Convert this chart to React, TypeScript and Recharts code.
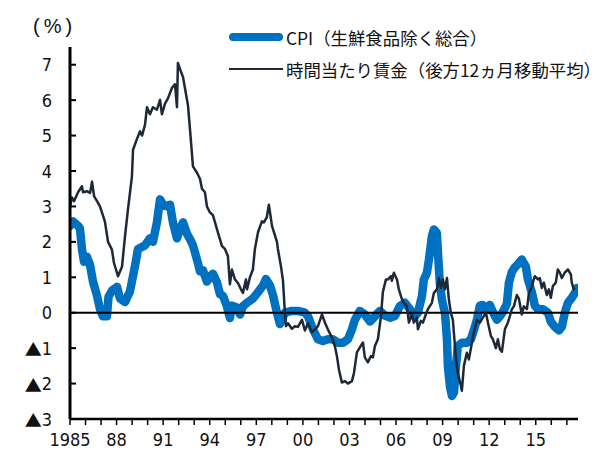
import { LineChart, Line, XAxis, YAxis, ReferenceLine } from "recharts"

// CPI (ex fresh food), y/y %
const cpiYears = [
  1985.0, 1985.19, 1985.52, 1985.64, 1985.77, 1985.9, 1986.09, 1986.29, 1986.48, 1986.74,
  1986.93, 1987.12, 1987.38, 1987.48, 1987.7, 1988.03, 1988.22, 1988.54, 1988.86, 1989.19,
  1989.38, 1989.83, 1990.15, 1990.34, 1990.6, 1990.8, 1990.99, 1991.25, 1991.44, 1991.63,
  1991.89, 1992.08, 1992.28, 1992.53, 1992.73, 1992.92, 1993.18, 1993.37, 1993.56, 1993.82,
  1994.01, 1994.21, 1994.47, 1994.66, 1994.85, 1995.11, 1995.3, 1995.43, 1995.75, 1995.95,
  1996.14, 1996.46, 1996.78, 1997.11, 1997.43, 1997.62, 1997.88, 1998.07, 1998.33, 1998.52,
  1998.84, 1999.29, 1999.68, 2000.13, 2000.33, 2000.65, 2000.97, 2001.29, 2001.61, 2001.93,
  2002.26, 2002.58, 2002.9, 2003.16, 2003.35, 2003.67, 2003.99, 2004.32, 2004.64, 2004.96,
  2005.28, 2005.61, 2005.93, 2006.25, 2006.57, 2006.89, 2007.21, 2007.41, 2007.67, 2007.79,
  2007.99, 2008.12, 2008.31, 2008.44, 2008.63, 2008.7, 2008.82, 2008.95, 2009.15, 2009.28,
  2009.34, 2009.47, 2009.6, 2009.73, 2009.86, 2009.98, 2010.24, 2010.56, 2010.82, 2011.01,
  2011.21, 2011.4, 2011.59, 2011.85, 2012.04, 2012.24, 2012.5, 2012.69, 2012.88, 2013.14,
  2013.27, 2013.46, 2013.65, 2013.85, 2014.1, 2014.36, 2014.49, 2014.75, 2014.94, 2015.14,
  2015.46, 2015.78, 2015.97, 2016.23, 2016.49, 2016.68, 2016.87, 2017.07, 2017.32, 2017.58,
  2017.65,
]
const cpiValues = [
  2.45, 2.58, 2.45, 2.38, 1.8, 1.44, 1.58, 1.35, 0.88, 0.48,
  0.1, -0.1, -0.1, 0.45, 0.62, 0.73, 0.4, 0.3, 0.6, 1.33,
  1.8, 1.9, 2.1, 2.0, 2.55, 3.2, 3.05, 3.0, 3.05, 2.55,
  2.1, 2.35, 2.55, 2.23, 2.08, 1.9, 1.5, 1.17, 1.2, 0.88,
  1.02, 1.1, 0.85, 0.52, 0.48, 0.18, -0.15, 0.2, 0.15, -0.05,
  0.18, 0.3, 0.4, 0.58, 0.77, 0.95, 0.77, 0.5, 0.0, -0.32,
  0.0, 0.05, 0.05, 0.0, -0.1, -0.47, -0.75, -0.8, -0.75, -0.75,
  -0.85, -0.85, -0.75, -0.47, -0.2, 0.05, -0.05, -0.25, -0.1, 0.05,
  -0.08, -0.14, -0.09, 0.19, 0.28, 0.1, -0.1, 0.0, 0.47, 0.94,
  1.13, 1.5, 2.16, 2.35, 2.25, 1.69, 0.85, 0.38, 0.0, -0.75,
  -1.5, -2.07, -2.35, -2.25, -1.5, -0.94, -0.85, -0.85, -0.75, -0.5,
  -0.2, 0.2, 0.22, 0.08, 0.22, 0.02, -0.2, -0.1, 0.02, 0.25,
  0.85, 1.15, 1.28, 1.37, 1.5, 1.3, 0.95, 0.57, 0.2, 0.1,
  0.1, 0.0, -0.25, -0.4, -0.5, -0.4, 0.0, 0.28, 0.42, 0.6,
  0.7,
]

// hourly wages, backward 12-month moving average, y/y %
const wageYears = [
  1985.0, 1985.13, 1985.26, 1985.52, 1985.77, 1985.84, 1986.09, 1986.29, 1986.42, 1986.55,
  1986.74, 1986.93, 1987.12, 1987.25, 1987.45, 1987.7, 1987.83, 1988.09, 1988.35, 1988.54,
  1988.73, 1988.99, 1989.06, 1989.31, 1989.51, 1989.64, 1989.83, 1989.96, 1990.15, 1990.34,
  1990.6, 1990.8, 1990.92, 1991.12, 1991.31, 1991.57, 1991.76, 1991.89, 1991.95, 1992.15,
  1992.28, 1992.4, 1992.6, 1992.73, 1992.92, 1993.18, 1993.37, 1993.5, 1993.69, 1993.82,
  1994.01, 1994.21, 1994.34, 1994.53, 1994.79, 1994.98, 1995.17, 1995.3, 1995.43, 1995.62,
  1995.82, 1996.01, 1996.14, 1996.33, 1996.4, 1996.59, 1996.78, 1996.91, 1997.11, 1997.36,
  1997.49, 1997.68, 1997.81, 1998.01, 1998.14, 1998.33, 1998.39, 1998.59, 1998.72, 1998.84,
  1998.91, 1999.04, 1999.29, 1999.49, 1999.68, 1999.94, 2000.13, 2000.33, 2000.58, 2000.78,
  2000.97, 2001.23, 2001.42, 2001.61, 2001.87, 2002.06, 2002.19, 2002.32, 2002.51, 2002.71,
  2002.9, 2003.16, 2003.29, 2003.48, 2003.67, 2003.87, 2003.99, 2004.19, 2004.38, 2004.51,
  2004.64, 2004.83, 2005.03, 2005.15, 2005.35, 2005.48, 2005.67, 2005.73, 2005.86, 2006.06,
  2006.18, 2006.38, 2006.51, 2006.7, 2006.83, 2007.02, 2007.15, 2007.34, 2007.41, 2007.6,
  2007.73, 2007.92, 2008.05, 2008.31, 2008.44, 2008.63, 2008.76, 2008.89, 2009.02, 2009.15,
  2009.28, 2009.4, 2009.53, 2009.66, 2009.86, 2009.98, 2010.18, 2010.24, 2010.37, 2010.56,
  2010.69, 2010.89, 2011.01, 2011.21, 2011.4, 2011.59, 2011.79, 2011.92, 2012.11, 2012.24,
  2012.43, 2012.56, 2012.69, 2012.82, 2013.01, 2013.2, 2013.33, 2013.46, 2013.59, 2013.78,
  2013.91, 2014.1, 2014.23, 2014.43, 2014.56, 2014.68, 2014.81, 2014.94, 2015.14, 2015.26,
  2015.39, 2015.52, 2015.71, 2015.84, 2015.97, 2016.1, 2016.29, 2016.42, 2016.55, 2016.68,
  2016.87, 2017.07, 2017.26, 2017.32, 2017.45, 2017.52,
]
const wageValues = [
  3.0, 3.25, 3.15, 3.4, 3.57, 3.4, 3.43, 3.38, 3.7, 3.29,
  3.15, 3.0, 2.75, 2.57, 2.0, 1.78, 1.41, 1.03, 1.3, 2.15,
  2.9, 3.85, 4.6, 4.9, 5.12, 5.0, 5.3, 5.8, 5.6, 5.8,
  5.73, 6.01, 5.6, 5.9, 6.05, 6.35, 6.45, 5.8, 7.05, 6.8,
  6.65, 6.35, 5.85, 5.17, 4.13, 3.95, 3.78, 3.5, 3.4, 3.0,
  2.83, 2.75, 2.55, 2.26, 1.88, 1.8, 1.6, 0.8, 1.22, 0.94,
  0.84, 0.66, 0.56, 0.94, 0.66, 1.0, 1.22, 1.8, 2.27, 2.58,
  2.55, 2.7, 3.05, 2.45, 2.27, 2.0, 1.8, 1.3, 0.9, 0.0,
  -0.38, -0.3, -0.45, -0.38, -0.4, -0.2, -0.5, -0.3, -0.55, -0.47,
  -0.38, -0.05, -0.28, -0.47, -0.7, -0.94, -1.22, -1.6, -1.97, -1.93,
  -2.0, -1.93, -1.7, -1.12, -0.98, -0.84, -1.26, -1.4, -1.22, -1.26,
  -0.94, -0.75, -0.1, 0.58, 0.94, 0.94, 1.03, 0.9, 1.13, 0.94,
  0.66, 0.38, 0.28, 0.18, -0.28, -0.05, -0.28, -0.14, -0.47, -0.23,
  -0.28, -0.05, 0.1, 0.28, 0.56, 0.66, 0.98, 0.7, 0.94, 0.66,
  0.98, 0.38, 0.0, -0.2, -1.3, -1.7, -2.07, -2.2, -1.5, -1.13,
  -1.32, -0.84, -0.56, -0.2, -0.28, -0.14, 0.0, -0.28, -0.66, -0.75,
  -1.0, -0.75, -1.03, -1.1, -0.47, -0.28, -0.1, 0.1, 0.18, 0.5,
  0.4, -0.05, 0.18, 0.1, 0.56, 0.66, 0.85, 1.03, 0.94, 0.98,
  0.7, 0.85, 0.5, 0.66, 0.42, 0.75, 0.85, 1.22, 1.13, 0.98,
  1.13, 1.22, 1.08, 0.85, 0.66, 0.7,
]

const seriesNames = ["CPI（生鮮食品除く総合）", "時間当たり賃金（後方12ヵ月移動平均）"]
const seriesColors = ["#0070c0", "#1f2837"]

const yTicks = [-3, -2, -1, 0, 1, 2, 3, 4, 5, 6, 7]
const xTicks = Array.from({ length: 33 }, (_, i) => 1985 + i)
const xTickLabels: Record<number, string> = {
  1985: "1985", 1988: "88", 1991: "91", 1994: "94", 1997: "97", 2000: "00",
  2003: "03", 2006: "06", 2009: "09", 2012: "12", 2015: "15",
}

const cpiData = cpiYears.map((t, i) => ({ t, v: cpiValues[i] }))
const wageData = wageYears.map((t, i) => ({ t, v: wageValues[i] }))

const numFont = "'Liberation Sans Narrow', 'DejaVu Sans Condensed', 'Liberation Sans', sans-serif"
const jpFont = "'Noto Sans CJK JP', sans-serif"

// labels use ▲ for negatives
function YTick(props: any) {
  const { x, y, payload } = props
  const v = payload.value as number
  return (
    <text x={x} y={y} textAnchor="end" dominantBaseline="central" fontSize={18} fontFamily={numFont} fill="#111">
      {v < 0 ? (
        <>
          <tspan fontFamily={jpFont} fontSize={17}>▲</tspan>
          {Math.abs(v)}
        </>
      ) : (
        v
      )}
    </text>
  )
}

export default function App() {
  return (
    <div style={{ position: "absolute", left: 0, top: 0, width: 606, height: 454, background: "#fff", overflow: "hidden" }}>
      <LineChart width={606} height={454} margin={{ top: 47, right: 28, left: 0, bottom: 0 }}>
        <XAxis
          dataKey="t"
          type="number"
          domain={[1985, 2017.72]}
          ticks={xTicks}
          interval={0}
          tickFormatter={(t: number) => xTickLabels[t] ?? ""}
          height={35}
          axisLine={{ stroke: "#000", strokeWidth: 2.5 }}
          tickLine={{ stroke: "#000", strokeWidth: 1.5 }}
          tickSize={6}
          tickMargin={8}
          tick={{ fontSize: 18, fontFamily: numFont, fill: "#111" }}
          allowDataOverflow
        />
        {/* negative tickSize puts the tick marks inside the plot */}
        <YAxis
          type="number"
          domain={[-3, 7.5]}
          ticks={yTicks}
          interval={0}
          width={70}
          axisLine={{ stroke: "#000", strokeWidth: 3 }}
          tickLine={{ stroke: "#000", strokeWidth: 2 }}
          tickSize={-6}
          tickMargin={24}
          tick={<YTick />}
          allowDataOverflow
        />
        <Line
          data={cpiData}
          dataKey="v"
          type="linear"
          stroke={seriesColors[0]}
          strokeWidth={8.5}
          strokeLinejoin="round"
          strokeLinecap="round"
          dot={false}
          activeDot={false}
          isAnimationActive={false}
        />
        <ReferenceLine y={0} stroke="#000" strokeWidth={2} />
        <Line
          data={wageData}
          dataKey="v"
          type="linear"
          stroke={seriesColors[1]}
          strokeWidth={2.5}
          strokeLinejoin="round"
          dot={false}
          activeDot={false}
          isAnimationActive={false}
        />
      </LineChart>

      <div
        style={{
          position: "absolute",
          left: 33,
          top: 15,
          fontSize: 20,
          fontFamily: "'Liberation Sans', sans-serif",
          letterSpacing: 4,
          color: "#111",
        }}
      >
        (%)
      </div>

      {seriesNames.map((name, i) => (
        <div
          key={name}
          style={{
            position: "absolute",
            left: 229,
            top: 25 + i * 32,
            height: 24,
            display: "flex",
            alignItems: "center",
            whiteSpace: "nowrap",
            fontFamily: jpFont,
            fontSize: 17.4,
            color: "#111",
          }}
        >
          <span
            style={{
              display: "inline-block",
              width: 54,
              height: i === 0 ? 8 : 2.5,
              borderRadius: i === 0 ? 4 : 0,
              background: seriesColors[i],
              marginRight: 3,
            }}
          />
          {name}
        </div>
      ))}
    </div>
  )
}
